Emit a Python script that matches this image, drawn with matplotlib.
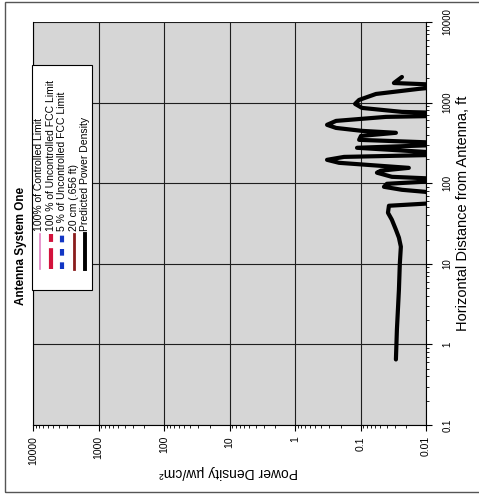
import numpy as np
import matplotlib
matplotlib.use('Agg')
import matplotlib.pyplot as plt
from matplotlib.lines import Line2D
from matplotlib.patches import Rectangle
from matplotlib.ticker import LogLocator, NullFormatter

plt.rcParams['font.family'] = ['Liberation Sans', 'DejaVu Sans']

# predicted power density (uW/cm2) vs horizontal distance (ft)
distance_ft = [0.65, 1.53, 4.78, 10.0, 16.3, 21.1, 26.5, 35.2, 43.0, 52.5,
               57.2, 71.8, 78.2, 82.8, 90.2, 98.3, 107, 113, 120, 135,
               143, 155, 179, 195, 212, 225, 238, 275, 299, 317,
               345, 386, 422, 446, 485, 530, 593, 665, 684, 745,
               767, 859, 964, 1080, 1280, 1480, 1570, 1660, 1750, 2080]
power_uw = [0.0288, 0.0278, 0.0259, 0.0251, 0.0242, 0.0259, 0.0288, 0.0332, 0.0381, 0.0368,
            0.006, 0.006, 0.0104, 0.0233, 0.0438, 0.0395, 0.006, 0.006, 0.0332, 0.0561,
            0.0488, 0.0183, 0.212, 0.324, 0.178, 0.006, 0.006, 0.113, 0.006, 0.006,
            0.105, 0.0983, 0.0288, 0.0948, 0.236, 0.324, 0.236, 0.0409, 0.006, 0.006,
            0.0233, 0.0948, 0.121, 0.105, 0.058, 0.0129, 0.006, 0.006, 0.0309, 0.0233]

power_ticks = [10000, 1000, 100, 10, 1, 0.1, 0.01]
power_labels = ['10000', '1000', '100', '10', '1', '0.1', '0.01']
dist_ticks = [0.1, 1, 10, 100, 1000, 10000]
dist_labels = ['0.1', '1', '10', '100', '1000', '10000']

legend_labels = ['100% of Controlled Limit', '100 % of Uncontrolled FCC Limit',
                 '5 % of Uncontrolled FCC Limit', '20 cm (.656 ft)', 'Predicted Power Density']
legend_colors = ['#e383c4', '#d3123c', '#1236c4', '#8a1c1c', 'black']
legend_styles = ['-', (0, (5, 1.5)), (0, (1.6, 1.6)), '-', '-']
legend_widths = [1.2, 3.0, 3.0, 2.0, 2.8]

W, H = 479, 495
fig = plt.figure(figsize=(W / 100, H / 100), dpi=100)


def fx(x):
    return x / W


def fy(y):
    return 1 - y / H


ax = fig.add_axes([fx(33), fy(425), fx(426) - fx(33), fy(22) - fy(425)])
ax.set_facecolor('#d6d6d6')
ax.plot(power_uw, distance_ft, color='black', lw=3, solid_joinstyle='round',
        solid_capstyle='round', zorder=3)

ax.set_xscale('log')
ax.set_yscale('log')
ax.set_xlim(10000, 0.01)
ax.set_ylim(0.1, 10000)

ax.set_xticks(power_ticks, labels=power_labels, rotation=90, fontsize=7.5)
ax.set_yticks(dist_ticks, labels=dist_labels, fontsize=7)
for axis in (ax.xaxis, ax.yaxis):
    axis.set_minor_locator(LogLocator(base=10, subs=np.arange(2, 10), numticks=100))
    axis.set_minor_formatter(NullFormatter())

ax.yaxis.tick_right()
ax.tick_params(axis='y', which='both', direction='out', right=True, left=False,
               labelright=True, labelleft=False, pad=8)
ax.tick_params(axis='x', which='both', direction='out', pad=4)
ax.tick_params(which='major', length=4, width=0.8)
ax.tick_params(which='minor', length=2.5, width=0.6)
for lab in ax.get_yticklabels():
    lab.set_rotation(90)
    lab.set_va('center')

ax.grid(True, which='major', color='#1e1e1e', lw=0.8)
ax.spines['top'].set_visible(False)
for s in ('left', 'right', 'bottom'):
    ax.spines[s].set_linewidth(0.8)

# outer frame of the scanned page
fig.add_artist(Rectangle((fx(5), fy(492)), 1.2, fy(2) - fy(492), fill=False,
                         edgecolor='#555555', lw=1.0, transform=fig.transFigure))

fig.text(fx(21), fy(246), 'Antenna System One', rotation=90, fontweight='bold',
         fontsize=8.5, ha='center', va='center')
fig.text(fx(463), fy(213), 'Horizontal Distance from Antenna, ft', rotation=90,
         fontsize=10.5, ha='center', va='center')
fig.text(fx(229), fy(472), 'Power Density µw/cm²', rotation=180,
         fontsize=10, ha='center', va='center')

# legend drawn by hand since it is turned on its side
fig.add_artist(Rectangle((fx(32), fy(290)), fx(92) - fx(32), fy(65) - fy(290),
                         facecolor='white', edgecolor='black', lw=0.8,
                         transform=fig.transFigure, zorder=5))
for i, (lab, c, ls, lw) in enumerate(zip(legend_labels, legend_colors,
                                         legend_styles, legend_widths)):
    x = 39.5 + i * 11.4
    fig.add_artist(Line2D([fx(x), fx(x)], [fy(269), fy(234)], color=c, ls=ls, lw=lw,
                          transform=fig.transFigure, zorder=6))
    fig.text(fx(x), fy(231), lab, rotation=90, fontsize=7.5, ha='center',
             va='bottom', zorder=6)

fig.savefig('out.png', dpi=100)
